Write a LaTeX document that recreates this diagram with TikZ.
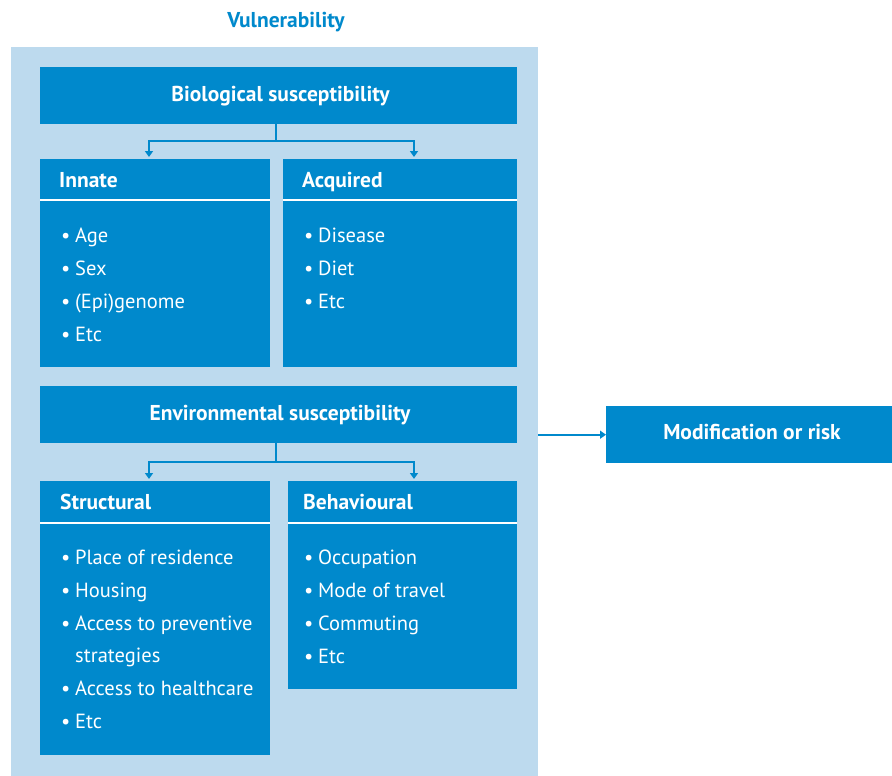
\documentclass[tikz,border=0pt]{standalone}
\usepackage{fontspec}
\setmainfont{PT Sans}
\usetikzlibrary{arrows.meta}
\definecolor{dblue}{HTML}{0089CC}
\definecolor{lblue}{HTML}{BDDAEE}
\begin{document}
\begin{tikzpicture}[x=1pt,y=-1pt,
  dbox/.style={fill=dblue, draw=none, anchor=north west, inner sep=0},
  head/.style={text=white, font=\fontsize{21.5}{24}\selectfont\bfseries, anchor=base west, inner sep=0},
  item/.style={text=white, font=\fontsize{20.5}{24}\selectfont, anchor=base west, inner sep=0},
  conn/.style={dblue, line width=2pt},
  arr/.style={conn, -{Triangle[length=6pt,width=8pt]}},
  sep/.style={white, line width=2pt}]
\useasboundingbox (0,0) rectangle (892,776);
\node[fill=lblue, anchor=north west, inner sep=0, minimum width=527, minimum height=729] (bg) at (11,47) {};
\node[text=dblue, font=\fontsize{21.5}{24}\selectfont\bfseries, anchor=base, inner sep=0] (title) at (286,28) {Vulnerability};
% boxes
\node[dbox, minimum width=477, minimum height=57] (bio) at (40,67) {};
\node[dbox, minimum width=230, minimum height=208] (inn) at (40,159) {};
\node[dbox, minimum width=234, minimum height=208] (acq) at (283,159) {};
\node[dbox, minimum width=477, minimum height=57] (env) at (40,386) {};
\node[dbox, minimum width=230, minimum height=274] (str) at (40,481) {};
\node[dbox, minimum width=229, minimum height=208] (beh) at (288,481) {};
\node[dbox, minimum width=286, minimum height=57] (mod) at (606,406) {};
% separators
\draw[sep] ([yshift=-40.5pt]inn.north west) -- ([yshift=-40.5pt]inn.north east);
\draw[sep] ([yshift=-40.5pt]acq.north west) -- ([yshift=-40.5pt]acq.north east);
\draw[sep] ([yshift=-41.5pt]str.north west) -- ([yshift=-41.5pt]str.north east);
\draw[sep] ([yshift=-41.5pt]beh.north west) -- ([yshift=-41.5pt]beh.north east);
% headings
\node[head, anchor=base] (biot) at (280.5,101.5) {Biological susceptibility};
\node[head, anchor=base] (envt) at (280,420) {Environmental susceptibility};
\node[head, anchor=base] (modt) at (752,439.5) {Modification or risk};
\node[head] (innt) at (59,187.5) {Innate};
\node[head] (acqt) at (302,187.5) {Acquired};
\node[head] (strt) at (60,509) {Structural};
\node[head] (beht) at (303,509) {Behavioural};
% items
\foreach \t [count=\i from 0] in {Age,Sex,{(Epi)genome},Etc}
  \node[item] (inni\i) at (61,242+33*\i) {\makebox[14pt][l]{\textbullet}\t};
\foreach \t [count=\i from 0] in {Disease,Diet,Etc}
  \node[item] (acqi\i) at (304,242+33*\i) {\makebox[14pt][l]{\textbullet}\t};
\node[item] (stri0) at (61,564) {\makebox[14pt][l]{\textbullet}Place of residence};
\node[item] (stri1) at (61,597) {\makebox[14pt][l]{\textbullet}Housing};
\node[item] (stri2) at (61,630) {\makebox[14pt][l]{\textbullet}Access to preventive};
\node[item] (stri3) at (75,662) {strategies};
\node[item] (stri4) at (61,695) {\makebox[14pt][l]{\textbullet}Access to healthcare};
\node[item] (stri5) at (61,728) {\makebox[14pt][l]{\textbullet}Etc};
\foreach \t [count=\i from 0] in {Occupation,Mode of travel,Commuting,Etc}
  \node[item] (behi\i) at (304,564+33*\i) {\makebox[14pt][l]{\textbullet}\t};
% connectors
\coordinate (j1) at (276,141);
\coordinate (t1) at (149,157);
\coordinate (t2) at (414,157);
\coordinate (j2) at (276,462);
\coordinate (t3) at (149,479);
\coordinate (t4) at (414,479);
\draw[conn] (j1 |- bio.south) -- (j1);
\draw[arr] (j1) -| (t1);
\draw[arr] (j1) -| (t2);
\draw[conn] (j2 |- env.south) -- (j2);
\draw[arr] (j2) -| (t3);
\draw[arr] (j2) -| (t4);
\draw[arr] (bg.east |- mod.west) -- (mod.west);
\end{tikzpicture}
\end{document}
